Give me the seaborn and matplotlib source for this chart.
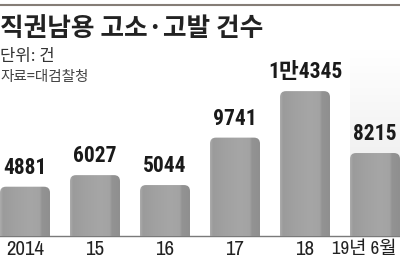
import numpy as np
import pandas as pd
import matplotlib
matplotlib.use("Agg")
import matplotlib.pyplot as plt
import seaborn as sns
from matplotlib.patches import FancyBboxPatch
from matplotlib.lines import Line2D
from matplotlib.colors import LinearSegmentedColormap
from matplotlib.transforms import ScaledTranslation

# ---- data ----
categories = ["2014", "15", "16", "17", "18", "19년 6월"]
values = [4881, 6027, 5044, 9741, 14345, 8215]
value_labels = ["4881", "6027", "5044", "9741", "1만4345", "8215"]
title = "직권남용 고소·고발 건수"
unit_text = "단위: 건"
source_text = "자료=대검찰청"

sns.set_style("white")
plt.rcParams["font.family"] = ["Noto Sans CJK KR", "DejaVu Sans"]
NUM_FONT = ["Roboto Condensed", "Noto Sans CJK KR", "DejaVu Sans"]
TICK_FONT = ["Archivo Narrow", "Noto Sans CJK KR", "DejaVu Sans"]

W, H = 400, 262
fig = plt.figure(figsize=(W / 100, H / 100), dpi=100)
base_px = 236
ax = fig.add_axes([0, (H - base_px) / H, 1, base_px / H])

df = pd.DataFrame({"cat": categories, "val": values})
sns.barplot(data=df, x="cat", y="val", order=categories, width=50 / 70,
            color="#a0a0a0", ax=ax)

px_per_unit = 0.0101
ymax = base_px / px_per_unit
xmin, xmax = -25 / 70, 5 + 25 / 70
ax.set_xlim(xmin, xmax)
ax.set_ylim(0, ymax)

# rounded, shaded bars derived from seaborn's bar patches
rx = 6 / 70
ry = 6 / px_per_unit
bar_cmap = LinearSegmentedColormap.from_list(
    "bar", [(0.0, "#ababab"), (0.06, "#9b9b9b"), (0.25, "#a0a0a0"),
            (0.6, "#a6a6a6"), (0.8, "#a3a3a3"), (0.84, "#939393"),
            (1.0, "#8f8f8f")])
grad = np.linspace(0, 1, 200).reshape(1, -1)

bars = list(ax.patches)
for p in bars:
    x0, w, h = p.get_x(), p.get_width(), p.get_height()
    p.set_alpha(0)
    fb = FancyBboxPatch((x0, -ry), w, h + ry,
                        boxstyle=f"round,pad=0,rounding_size={rx}",
                        mutation_aspect=ry / rx, facecolor="none",
                        edgecolor="none", zorder=3)
    ax.add_patch(fb)
    im = ax.imshow(grad, cmap=bar_cmap, extent=(x0, x0 + w, 0, h),
                   aspect="auto", zorder=3, interpolation="bilinear")
    im.set_clip_path(fb)

# light gradient behind the latest bar
last = bars[-1]
bg_top = (base_px - 50) / px_per_unit
bg_cmap = LinearSegmentedColormap.from_list("bg", ["#e6e6e6", "#ffffff"])
vgrad = np.linspace(0, 1, 200).reshape(-1, 1)
ax.imshow(vgrad, cmap=bg_cmap, extent=(last.get_x(), last.get_x() + last.get_width(), 0, bg_top),
          origin="lower", aspect="auto", zorder=1, interpolation="bilinear")

ax.set_xlim(xmin, xmax)
ax.set_ylim(0, ymax)

# value labels
ax.bar_label(ax.containers[0], labels=value_labels, padding=5.5,
             fontsize=15.5, fontweight="bold", color="#1a1a1a",
             family=NUM_FONT, zorder=5)

# axes styling
for s in ["top", "right", "left"]:
    ax.spines[s].set_visible(False)
ax.spines["bottom"].set_color("#7a7a7a")
ax.spines["bottom"].set_linewidth(1.0)
ax.set_yticks([])
ax.set_xlabel("")
ax.set_ylabel("")
ax.tick_params(axis="x", length=0, pad=3)
ax.set_xticks(range(len(categories)))
ax.set_xticklabels(categories, fontsize=15, color="#222222", family=TICK_FONT)
lastlab = ax.get_xticklabels()[-1]
lastlab.set_fontsize(13.5)
lastlab.set_transform(lastlab.get_transform() + ScaledTranslation(-11 / 100, 0, fig.dpi_scale_trans))
ax.patch.set_alpha(0)

# header
fig.add_artist(Line2D([0, 1], [1 - 5 / H] * 2, transform=fig.transFigure,
                      color="#857d76", lw=1.5))
fig.text(0, 1 - 29 / H, title, fontsize=18.5, fontweight="bold",
         color="#222222", va="center", ha="left")
fig.text(0, 1 - 56 / H, unit_text, fontsize=12, color="#333333",
         va="center", ha="left")
fig.text(0, 1 - 77 / H, source_text, fontsize=10.5, color="#444444",
         va="center", ha="left")

fig.savefig("out.png", dpi=100)
